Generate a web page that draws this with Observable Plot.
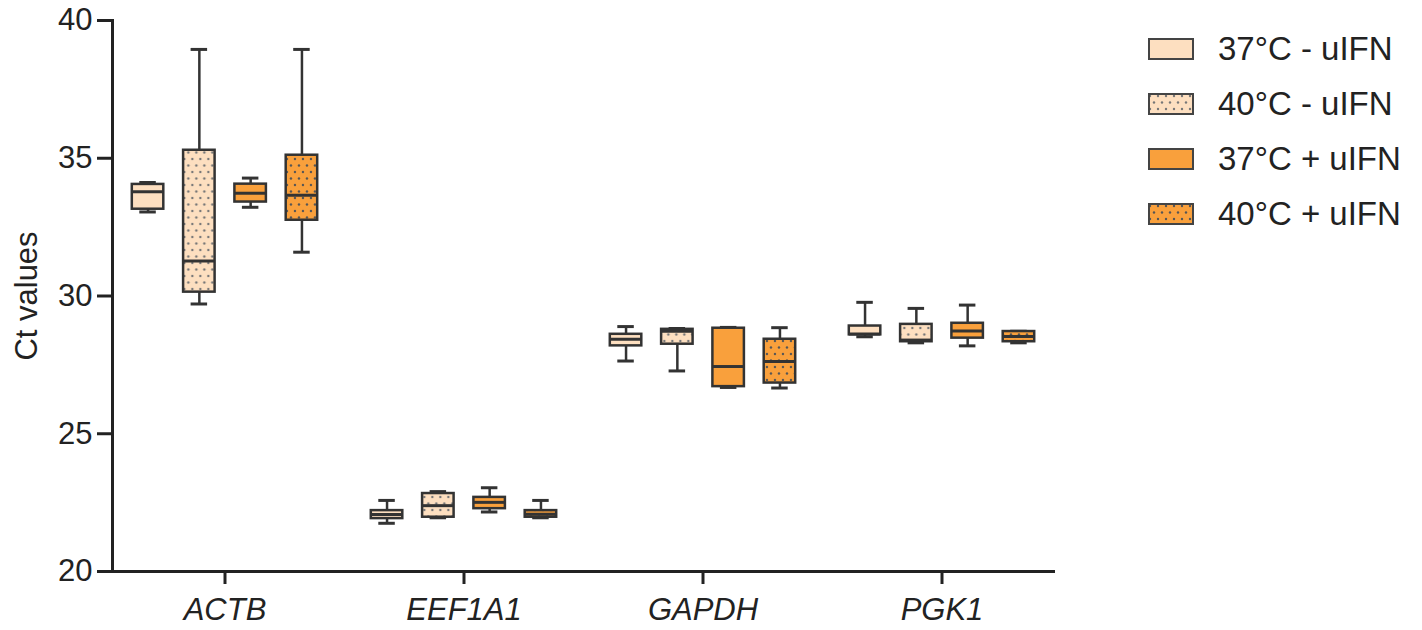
<!DOCTYPE html>
<html>
<head>
<meta charset="utf-8">
<script src="https://cdn.jsdelivr.net/npm/d3@7"></script>
<script src="https://cdn.jsdelivr.net/npm/@observablehq/plot@0.6"></script>
<style>
  html, body { margin: 0; padding: 0; background: #fff; }
  #wrap { position: relative; width: 1422px; height: 630px; font-family: "Liberation Sans", Arial, Helvetica, sans-serif; }
  #legend { position: absolute; left: 1148px; top: 39px; }
  .row { display: flex; align-items: center; height: 20px; margin-bottom: 35px; }
  .row svg { display: block; }
  .row span { margin-left: 24px; font-size: 33px; color: #222; line-height: 20px; white-space: nowrap; }
</style>
</head>
<body>
<svg width="0" height="0" style="position:absolute">
  <defs>
    <pattern id="dotsLight" width="8" height="13" patternUnits="userSpaceOnUse">
      <rect width="8" height="13" fill="#FDDFC0"></rect>
      <circle cx="2" cy="3" r="1.2" fill="#777"></circle>
      <circle cx="6" cy="9.5" r="1.2" fill="#777"></circle>
    </pattern>
    <pattern id="dotsOrange" width="8" height="13" patternUnits="userSpaceOnUse">
      <rect width="8" height="13" fill="#F9A03C"></rect>
      <circle cx="2" cy="3" r="1.2" fill="#555"></circle>
      <circle cx="6" cy="9.5" r="1.2" fill="#555"></circle>
    </pattern>
  </defs>
</svg>
<div id="wrap"><div id="chart"></div><div id="legend"></div></div>
<script>
// ---- data ----
const genes = ["ACTB", "EEF1A1", "GAPDH", "PGK1"];
const groups = ["37°C - uIFN", "40°C - uIFN", "37°C + uIFN", "40°C + uIFN"];
const groupFills = ["#FDDFC0", "url(#dotsLight)", "#F9A03C", "url(#dotsOrange)"];
const yTicks = [20, 25, 30, 35, 40];
// [min, q1, median, q3, max] per gene (ACTB, EEF1A1, GAPDH, PGK1)
const stats37minus = [[33.05, 33.15, 33.78, 34.05, 34.12], [21.75, 21.92, 22.07, 22.21, 22.58], [27.64, 28.19, 28.43, 28.61, 28.89], [28.52, 28.59, 28.62, 28.91, 29.77]];
const stats40minus = [[29.71, 30.14, 31.27, 35.29, 38.95], [21.95, 21.97, 22.39, 22.83, 22.9], [27.28, 28.25, 28.72, 28.79, 28.82], [28.3, 28.34, 28.4, 28.97, 29.55]];
const stats37plus = [[33.22, 33.41, 33.73, 34.06, 34.28], [22.16, 22.28, 22.51, 22.69, 23.04], [26.68, 26.71, 27.44, 28.83, 28.86], [28.19, 28.47, 28.73, 29.01, 29.67]];
const stats40plus = [[31.59, 32.75, 33.66, 35.11, 38.95], [21.95, 21.97, 22.08, 22.21, 22.58], [26.66, 26.84, 27.62, 28.43, 28.85], [28.3, 28.34, 28.53, 28.71, 28.72]];
const allStats = [stats37minus, stats40minus, stats37plus, stats40plus];

// ---- build table ----
const rows = allStats.map((s, gi) => genes.map((gene, k) => ({
  gene, group: groups[gi], gi,
  min: s[k][0], q1: s[k][1], med: s[k][2], q3: s[k][3], max: s[k][4]
})));

const xRange = [103.5, 1061.5];
const step = (xRange[1] - xRange[0]) / genes.length;
const boxW = 32, capW = 17, groupGap = 51.3;
const ink = "#333";

const marks = [];
rows.forEach((data, gi) => {
  const dx = (gi - 1.5) * groupGap;
  marks.push(
    Plot.ruleX(data, {x: "gene", y1: "min", y2: "max", dx, stroke: ink, strokeWidth: 2.5}),
    Plot.tickY(data, {x: "gene", y: "min", dx, stroke: ink, strokeWidth: 3, insetLeft: (step - capW) / 2, insetRight: (step - capW) / 2}),
    Plot.tickY(data, {x: "gene", y: "max", dx, stroke: ink, strokeWidth: 3, insetLeft: (step - capW) / 2, insetRight: (step - capW) / 2}),
    Plot.barY(data, {x: "gene", y1: "q1", y2: "q3", dx, fill: groupFills[gi], stroke: ink, strokeWidth: 2.5, insetLeft: (step - boxW) / 2, insetRight: (step - boxW) / 2}),
    Plot.tickY(data, {x: "gene", y: "med", dx, stroke: ink, strokeWidth: 3, insetLeft: (step - boxW) / 2, insetRight: (step - boxW) / 2})
  );
});

const chart = Plot.plot({
  width: 1422,
  height: 630,
  marginLeft: 112,
  marginRight: 367,
  marginTop: 20,
  marginBottom: 59,
  style: {fontFamily: "Liberation Sans, Arial, Helvetica, sans-serif", fontSize: "31px", color: "#222", background: "#fff"},
  x: {domain: genes, range: xRange, padding: 0},
  y: {domain: [20, 40]},
  marks: [
    Plot.axisY({ticks: yTicks, tickSize: 15, tickPadding: 5, strokeWidth: 3, fontSize: 31, label: "Ct values", labelAnchor: "center", labelArrow: "none", labelOffset: 98, fill: "#222", stroke: "#222"}),
    Plot.axisX({tickSize: 13, tickPadding: 13, strokeWidth: 3, fontSize: 31, fontStyle: "italic", label: null, fill: "#222", stroke: "#222"}),
    Plot.ruleY([20], {stroke: "#222", strokeWidth: 3}),
    Plot.frame({anchor: "left", stroke: "#222", strokeWidth: 3}),
    ...marks
  ]
});
document.getElementById("chart").appendChild(chart);

// ---- legend ----
const legend = d3.select("#legend");
groups.forEach((g, i) => {
  const row = legend.append("div").attr("class", "row");
  const sw = row.append("svg").attr("width", 46).attr("height", 22);
  sw.append("rect").attr("x", 1).attr("y", 1).attr("width", 44).attr("height", 20)
    .attr("fill", groupFills[i]).attr("stroke", "#444").attr("stroke-width", 2);
  row.append("span").text(g);
});
</script>
</body>
</html>
